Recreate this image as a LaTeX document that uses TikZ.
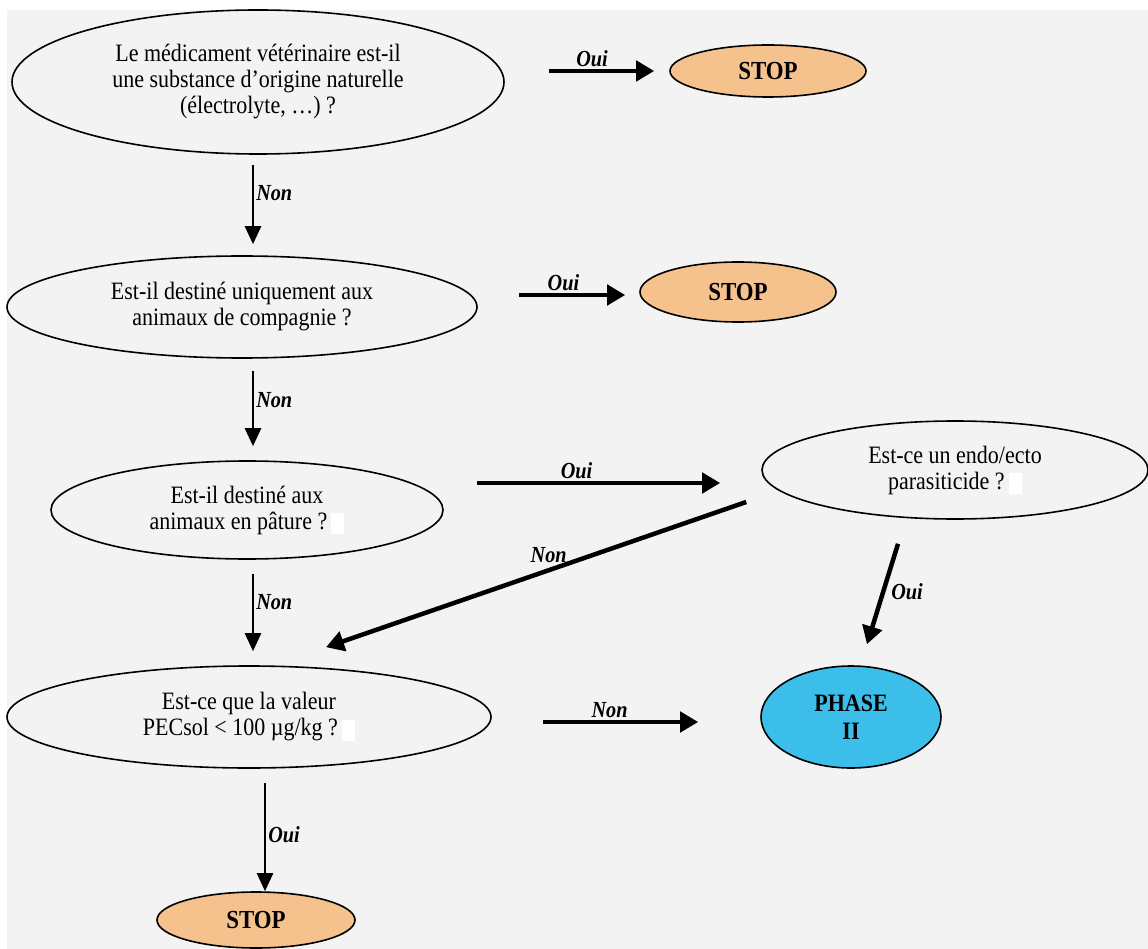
\documentclass[tikz,border=0pt]{standalone}
\usepackage{fontspec}
\setmainfont{Liberation Serif}[FakeStretch=0.88]
\usetikzlibrary{arrows.meta,shapes.geometric}
\definecolor{bgray}{HTML}{F3F3F3}
\definecolor{stopfill}{HTML}{F5C28E}
\definecolor{phasefill}{HTML}{3BBFEA}
\newcommand{\blankbox}{\textcolor{white}{\rule[-5pt]{13pt}{21pt}}}
\tikzset{
  question/.style={ellipse, draw, line width=1.6pt, inner sep=0pt, align=center,
    font=\fontsize{25}{26}\selectfont},
  stopnode/.style={ellipse, draw, line width=1.6pt, fill=stopfill, inner sep=0pt,
    font=\fontsize{26}{28}\selectfont\bfseries},
  thinarr/.style={line width=2.5pt, -{Triangle[length=18pt,width=16pt]}},
  thickarr/.style={line width=4.5pt, -{Triangle[length=18pt,width=20pt]}},
  lbl/.style={font=\fontsize{23}{25}\selectfont\bfseries\itshape, inner sep=2pt},
}
\begin{document}
\begin{tikzpicture}[x=1pt,y=-1pt]
        \useasboundingbox (0,0) rectangle (1148,949);
        \fill[white] (0,0) rectangle (1148,949);
        \fill[bgray] (7,10) rectangle (1148,949);
        % questions
        \node[question, minimum width=492pt, minimum height=144pt] (q1) at (258,82)
          {Le médicament vétérinaire est-il\\une substance d’origine naturelle\\(électrolyte, …) ?};
        \node[question, minimum width=470pt, minimum height=102pt] (q2) at (242,307)
          {Est-il destiné uniquement aux\\animaux de compagnie ?};
        \node[question, minimum width=392pt, minimum height=98pt] (q3) at (247,510)
          {Est-il destiné aux\\animaux en pâture ?\,\blankbox};
        \node[question, minimum width=386pt, minimum height=98pt] (q4) at (955,470)
          {Est-ce un endo/ecto\\parasiticide ?\,\blankbox};
        \node[question, minimum width=484pt, minimum height=102pt] (q5) at (249,717)
          {Est-ce que la valeur\\PECsol < 100 µg/kg ?\,\blankbox};
        % outcomes
        \node[stopnode, minimum width=196pt, minimum height=52pt] (stop1) at (768,71) {STOP};
        \node[stopnode, minimum width=196pt, minimum height=60pt] (stop2) at (738,292) {STOP};
        \node[stopnode, minimum width=198pt, minimum height=56pt] (stop3) at (256,920) {STOP};
        \node[stopnode, fill=phasefill, align=center, minimum width=180pt, minimum height=102pt,
          font=\fontsize{25}{28}\selectfont\bfseries] (phase) at (851,717) {PHASE\\II};
        % Oui arrows
        \draw[thickarr] ([shift={(44,-11)}]q1.east) -- ([shift={(-15,0)}]stop1.west)
          node[lbl, pos=.41, above] {Oui};
        \draw[thickarr] ([shift={(41,-12)}]q2.east) -- ([shift={(-14,3)}]stop2.west)
          node[lbl, pos=.42, above] {Oui};
        \draw[thickarr] ([shift={(33,-27)}]q3.east) -- ([shift={(-41,13)}]q4.west)
          node[lbl, pos=.41, above] {Oui};
        \draw[thickarr] ([shift={(-57,24)}]q4.south) -- ([shift={(16,-21)}]phase.north)
          node[lbl, pos=.48, right=4pt] {Oui};
        \draw[thinarr] ([shift={(16,14)}]q5.south) -- ([shift={(9,0)}]stop3.north)
          node[lbl, pos=.48, right=0pt] {Oui};
        % Non arrows
        \draw[thinarr] ([shift={(-5,10)}]q1.south) -- ([shift={(11,-11)}]q2.north)
          node[lbl, pos=.36, right=0pt] {Non};
        \draw[thinarr] ([shift={(11,12)}]q2.south) -- ([shift={(6,-14)}]q3.north)
          node[lbl, pos=.39, right=0pt] {Non};
        \draw[thinarr] ([shift={(6,14)}]q3.south) -- ([shift={(4,-14)}]q5.north)
          node[lbl, pos=.37, right=0pt] {Non};
        \draw[thickarr] ([shift={(-15,32)}]q4.west) -- ([shift={(77,-18)}]q5.north)
          node[lbl, pos=.47, above=3pt] {Non};
        \draw[thickarr] ([shift={(51,5)}]q5.east) -- ([shift={(-62,5)}]phase.west)
          node[lbl, pos=.43, above] {Non};
\end{tikzpicture}
\end{document}
